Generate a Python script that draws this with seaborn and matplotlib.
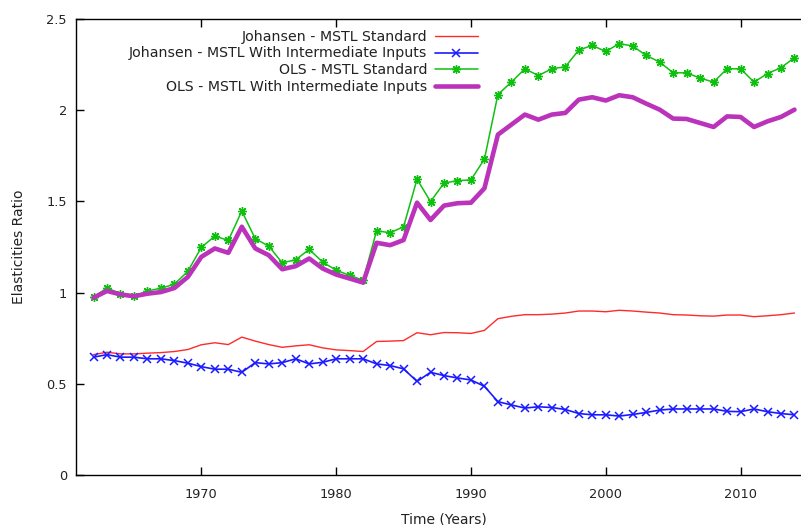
import matplotlib
matplotlib.use("Agg")
import matplotlib.pyplot as plt
import seaborn as sns
import pandas as pd

# Annual observations
years = list(range(1962, 2015))

johansen_standard = [
    0.660, 0.673, 0.664, 0.664, 0.668, 0.671, 0.677, 0.688, 0.714, 0.725,
    0.715, 0.756, 0.734, 0.715, 0.700, 0.708, 0.714, 0.697, 0.686, 0.682,
    0.677, 0.732, 0.734, 0.737, 0.780, 0.769, 0.781, 0.780, 0.776, 0.793,
    0.857, 0.870, 0.879, 0.879, 0.882, 0.888, 0.899, 0.899, 0.895, 0.903,
    0.899, 0.893, 0.888, 0.879, 0.877, 0.873, 0.871, 0.877, 0.877, 0.868,
    0.873, 0.879, 0.888,
]
johansen_intermediate = [
    0.646, 0.660, 0.646, 0.646, 0.637, 0.637, 0.627, 0.613, 0.594, 0.580,
    0.580, 0.563, 0.616, 0.609, 0.616, 0.637, 0.609, 0.618, 0.637, 0.637,
    0.637, 0.609, 0.600, 0.582, 0.513, 0.563, 0.545, 0.532, 0.521, 0.486,
    0.402, 0.384, 0.367, 0.374, 0.370, 0.359, 0.337, 0.330, 0.330, 0.323,
    0.332, 0.343, 0.356, 0.362, 0.362, 0.362, 0.362, 0.349, 0.347, 0.362,
    0.347, 0.337, 0.330,
]
ols_standard = [
    0.976, 1.025, 0.995, 0.980, 1.009, 1.024, 1.046, 1.117, 1.248, 1.310,
    1.286, 1.447, 1.295, 1.255, 1.163, 1.180, 1.237, 1.167, 1.123, 1.094,
    1.068, 1.339, 1.328, 1.361, 1.622, 1.499, 1.600, 1.614, 1.618, 1.732,
    2.086, 2.154, 2.227, 2.190, 2.227, 2.238, 2.330, 2.355, 2.322, 2.365,
    2.352, 2.300, 2.264, 2.205, 2.205, 2.176, 2.154, 2.227, 2.227, 2.154,
    2.201, 2.233, 2.288,
]
ols_intermediate = [
    0.972, 1.009, 0.990, 0.980, 0.994, 1.003, 1.025, 1.086, 1.196, 1.242,
    1.218, 1.361, 1.242, 1.205, 1.128, 1.145, 1.187, 1.132, 1.099, 1.077,
    1.055, 1.273, 1.260, 1.288, 1.493, 1.398, 1.477, 1.490, 1.493, 1.572,
    1.866, 1.921, 1.976, 1.948, 1.976, 1.985, 2.058, 2.071, 2.053, 2.082,
    2.071, 2.036, 2.003, 1.954, 1.952, 1.930, 1.908, 1.966, 1.963, 1.908,
    1.939, 1.963, 2.003,
]

labels = [
    "Johansen - MSTL Standard",
    "Johansen - MSTL With Intermediate Inputs",
    "OLS - MSTL Standard",
    "OLS - MSTL With Intermediate Inputs",
]
x_ticks = [1970, 1980, 1990, 2000, 2010]
y_ticks = [0, 0.5, 1, 1.5, 2, 2.5]
y_tick_labels = ["0", "0.5", "1", "1.5", "2", "2.5"]

df = pd.DataFrame({
    "year": years,
    labels[0]: johansen_standard,
    labels[1]: johansen_intermediate,
    labels[2]: ols_standard,
    labels[3]: ols_intermediate,
})

sns.set_theme(style="ticks")
plt.rcParams["font.family"] = ["DejaVu Sans"]
plt.rcParams["font.size"] = 9

W, H = 801, 525
fig = plt.figure(figsize=(W / 100, H / 100), dpi=100)
ax = fig.add_axes([76 / W, 1 - 475 / H, (812 - 76) / W, (475 - 19) / H])

asterisk = (8, 2, 0)
red, blue, green, purple = "#ff2a2a", "#1a1aff", "#10c010", "#bb33bb"
styles = [
    dict(color=red, lw=1.0, marker=None),
    dict(color=blue, lw=1.2, marker="x", markersize=5.5, markeredgewidth=1.1,
         markeredgecolor=blue, markerfacecolor=blue),
    dict(color=green, lw=1.1, marker=asterisk, markersize=6.2, markeredgewidth=1.0,
         markeredgecolor=green, markerfacecolor=green),
    dict(color=purple, lw=3.3, marker=None),
]

for lab, st in zip(labels, styles):
    sns.lineplot(data=df, x="year", y=lab, ax=ax, label=lab, dashes=False, **st)

ax.set_xlim(1960.7, 2015.3)
ax.set_ylim(0, 2.5)
ax.set_xticks(x_ticks)
ax.set_xticklabels([str(t) for t in x_ticks])
ax.set_yticks(y_ticks)
ax.set_yticklabels(y_tick_labels)

ax.tick_params(axis="both", direction="in", length=5.5, width=1, color="black",
               labelsize=9.3, labelcolor="#222222", top=True, right=False)
ax.tick_params(axis="y", pad=6.5)
ax.tick_params(axis="x", pad=9)
for side in ["left", "bottom", "top"]:
    ax.spines[side].set_visible(True)
    ax.spines[side].set_color("black")
    ax.spines[side].set_linewidth(1)
ax.spines["right"].set_visible(False)

ax.set_xlabel("Time (Years)", fontsize=10, color="#222222", labelpad=8.5)
ax.set_ylabel("Elasticities Ratio", fontsize=10, color="#222222", labelpad=15)

leg = ax.legend(
    loc="upper right",
    bbox_to_anchor=(477.5 / W, 1 - 29.5 / H),
    bbox_transform=fig.transFigure,
    frameon=False,
    markerfirst=False,
    fontsize=10.2,
    handlelength=3.0,
    handletextpad=0.55,
    labelspacing=0.21,
    borderpad=0,
    borderaxespad=0,
    numpoints=1,
)
for t in leg.get_texts():
    t.set_color("#222222")

fig.savefig("out.png", dpi=100)
